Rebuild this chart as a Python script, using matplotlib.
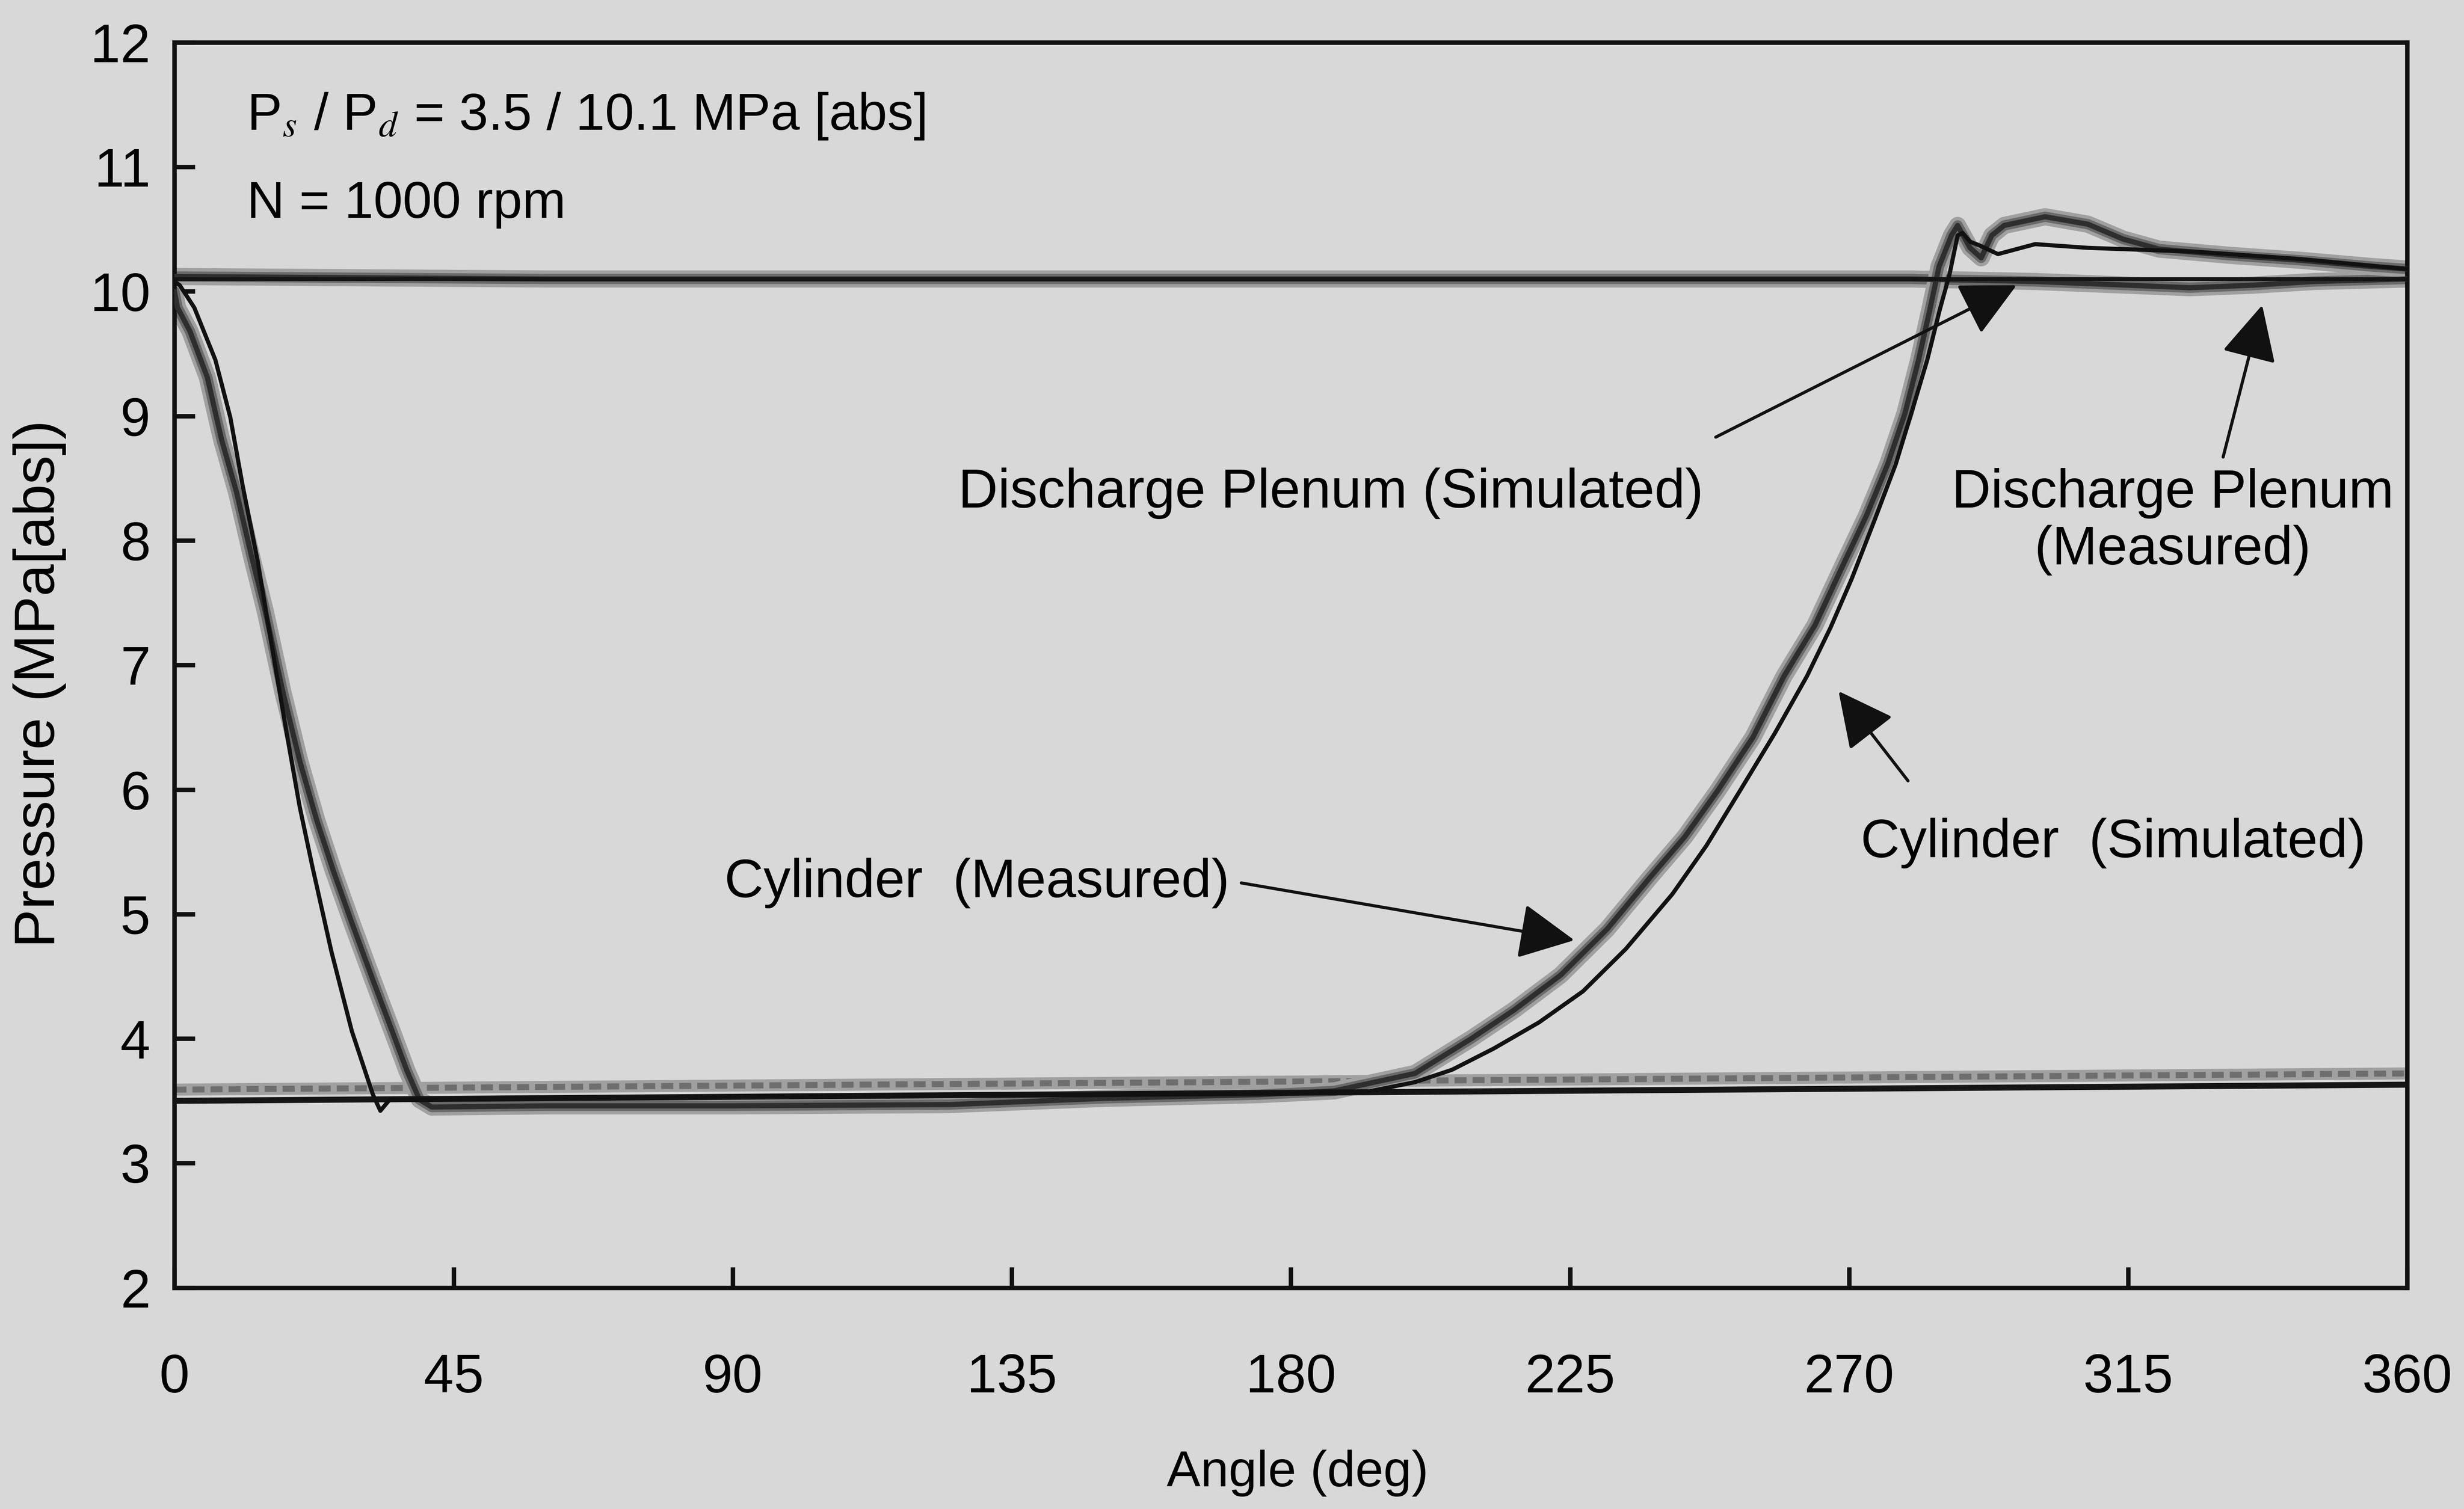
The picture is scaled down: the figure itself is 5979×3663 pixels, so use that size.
import matplotlib
matplotlib.use('Agg')
import matplotlib.pyplot as plt

plt.rcParams['font.family'] = ['Liberation Sans', 'DejaVu Sans']
plt.rcParams['mathtext.fontset'] = 'stix'

# --- data (angle in deg, pressure in MPa abs) ---
cyl_sim_angle = [0, 0.85, 3.2, 6.6, 9.0, 11.0, 13.4, 15.4, 18.1, 20.2, 22.2, 25.3, 28.6, 32.0, 33.2, 34.7,
                 40, 100, 150, 192, 200, 206, 212.7, 220, 227.1, 234, 241.5, 247, 252.4, 258, 263.2, 267,
                 270.4, 274, 277.5, 280.2, 282.6, 284.6, 286.2, 287.5, 288.3, 289.5, 291, 294, 300, 308.5,
                 325.6, 342.8, 360]
cyl_sim_p = [10.08, 10.05, 9.87, 9.45, 8.99, 8.44, 7.84, 7.24, 6.45, 5.86, 5.39, 4.70, 4.06, 3.55, 3.42, 3.51,
             3.51, 3.54, 3.55, 3.57, 3.65, 3.75, 3.92, 4.13, 4.38, 4.72, 5.16, 5.55, 5.99, 6.45, 6.91, 7.30,
             7.69, 8.15, 8.61, 9.05, 9.45, 9.85, 10.14, 10.45, 10.47, 10.40, 10.37, 10.30, 10.38, 10.35,
             10.32, 10.26, 10.18]

cyl_meas_angle = [0, 0.5, 2.5, 5.3, 7.6, 10.0, 12.4, 14.7, 17.5, 20.2, 22.9, 25.6, 28.6, 32.0, 35.1, 37.5,
                  39.5, 41.5, 60, 90, 125, 150, 175, 187, 200, 209.1, 216, 223.5, 231, 238, 243.5, 248.8,
                  254.5, 259.5, 264.5, 268.9, 272.8, 276.2, 279, 281.2, 283, 284.5, 286.5, 287.5, 289.5,
                  291.3, 293, 295, 301.6, 308.5, 314.2, 320, 331.4, 342.8, 354.3, 360]
cyl_meas_p = [10.0, 9.87, 9.68, 9.31, 8.81, 8.39, 7.88, 7.42, 6.78, 6.23, 5.76, 5.35, 4.93, 4.47, 4.06, 3.74,
              3.51, 3.45, 3.46, 3.46, 3.47, 3.52, 3.55, 3.58, 3.72, 4.0, 4.23, 4.51, 4.88, 5.30, 5.62, 5.99,
              6.42, 6.91, 7.32, 7.79, 8.2, 8.61, 9.02, 9.45, 9.85, 10.2, 10.45, 10.53, 10.35,
              10.27, 10.45, 10.53, 10.6, 10.54, 10.42, 10.34, 10.29, 10.25, 10.2, 10.18]

dis_sim_angle = [0, 360]
dis_sim_p = [10.1, 10.1]
dis_meas_angle = [0, 60, 120, 180, 240, 280, 300, 315, 325, 335, 345, 360]
dis_meas_p = [10.12, 10.1, 10.1, 10.1, 10.1, 10.1, 10.08, 10.05, 10.03, 10.05, 10.08, 10.1]

suc_sim_angle = [0, 360]
suc_sim_p = [3.5, 3.63]
suc_meas_angle = [0, 360]
suc_meas_p = [3.59, 3.72]

x_ticks = [0, 45, 90, 135, 180, 225, 270, 315, 360]
y_ticks = [2, 3, 4, 5, 6, 7, 8, 9, 10, 11, 12]

bg = '#d8d8d8'
fs = 31.5

fig = plt.figure(figsize=(5979 / 300, 3663 / 300), dpi=300, facecolor=bg)
ax = fig.add_axes([0.0708, 0.1467, 0.9062, 0.8252], facecolor=bg)

# measured curves look smeared in the scan: wide grey under a darker core
def measured(x, y, **kw):
  ax.plot(x, y, color='#a0a0a0', lw=10, solid_capstyle='round', zorder=2, **kw)
  ax.plot(x, y, color='#6a6a6a', lw=6, solid_capstyle='round', zorder=2, **kw)
  ax.plot(x, y, color='#2e2e2e', lw=3, solid_capstyle='round', zorder=3, **kw)

measured(dis_meas_angle, dis_meas_p)
ax.plot(suc_meas_angle, suc_meas_p, color='#a0a0a0', lw=7, zorder=2)
ax.plot(suc_meas_angle, suc_meas_p, color='#6e6e6e', lw=3.5, ls=(0, (2, 1)), zorder=2)
measured(cyl_meas_angle, cyl_meas_p)

ax.plot(dis_sim_angle, dis_sim_p, color='#151515', lw=2.2, zorder=4)
ax.plot(suc_sim_angle, suc_sim_p, color='#151515', lw=3.5, zorder=4)
ax.plot(cyl_sim_angle, cyl_sim_p, color='#111111', lw=2.4, zorder=5)

ax.set_xlim(0, 360)
ax.set_ylim(2, 12)
ax.set_xticks(x_ticks)
ax.set_yticks(y_ticks)
ax.tick_params(axis='both', direction='in', length=12, width=2.6, labelsize=fs, color='#111111')
ax.tick_params(axis='x', pad=38)
ax.tick_params(axis='y', pad=14)
for s in ax.spines.values():
  s.set_linewidth(2.6)
  s.set_color('#111111')

ax.set_xlabel('Angle (deg)', fontsize=29.5, va='center')
ax.set_ylabel('Pressure (MPa[abs])', fontsize=33.5, va='center')
ax.xaxis.set_label_coords(0.503, -0.149)
ax.yaxis.set_label_coords(-0.0605, 0.485)

ax.text(11.7, 11.30, r'P$_s$ / P$_d$ = 3.5 / 10.1 MPa [abs]', fontsize=30.5, va='baseline')
ax.text(11.7, 10.59, 'N = 1000 rpm', fontsize=30.5, va='baseline')

ax.text(186.4, 8.38, 'Discharge Plenum (Simulated)', fontsize=32, ha='center', va='center')
ax.text(322.2, 8.15, 'Discharge Plenum\n(Measured)', fontsize=fs, ha='center', va='center',
        multialignment='center', linespacing=1.15)
ax.text(312.6, 5.57, 'Cylinder  (Simulated)', fontsize=fs, ha='center', va='center')
ax.text(129.4, 5.25, 'Cylinder  (Measured)', fontsize=fs, ha='center', va='center')

arrow = dict(arrowstyle='-|>', mutation_scale=70, lw=1.8, color='#111111', shrinkA=0, shrinkB=0)
ax.annotate('', xy=(297, 10.05), xytext=(248.5, 8.83), arrowprops=arrow)
ax.annotate('', xy=(336.6, 9.89), xytext=(330.3, 8.67), arrowprops=arrow)
ax.annotate('', xy=(268.3, 6.79), xytext=(279.5, 6.07), arrowprops=arrow)
ax.annotate('', xy=(225.7, 4.79), xytext=(172.0, 5.25), arrowprops=arrow)

fig.savefig('out.png', dpi=300, facecolor=bg)
